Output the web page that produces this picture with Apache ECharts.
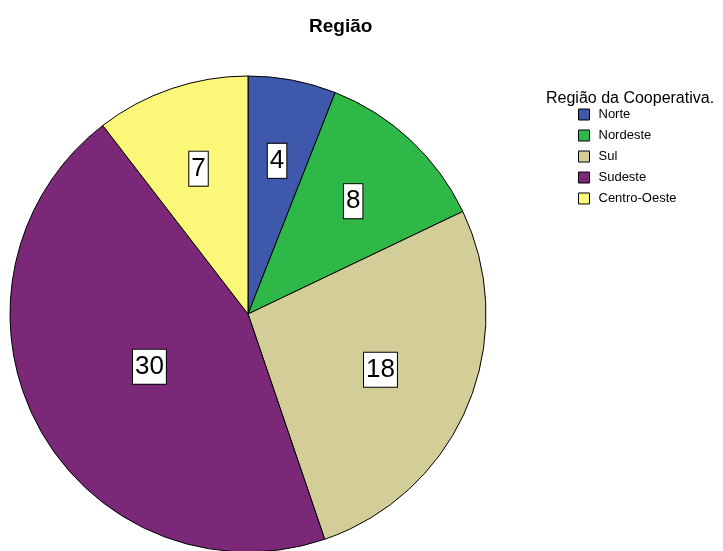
<!DOCTYPE html>
<html>
<head>
<meta charset="utf-8">
<script src="https://cdn.jsdelivr.net/npm/echarts@6/dist/echarts.min.js"></script>
<style>
  html, body { margin: 0; padding: 0; background: #fff; }
  #chart { width: 723px; height: 551px; }
</style>
</head>
<body>
<div id="chart"></div>
<script>
// Cooperatives by region
const categories = ['Norte', 'Nordeste', 'Sul', 'Sudeste', 'Centro-Oeste'];
const counts = [4, 8, 18, 30, 7];
const sliceColors = ['#3E58AC', '#2EB848', '#D3CE97', '#7B2879', '#FBF779'];

// Pie geometry (pixels) and how far out each value box sits along its slice's mid-angle
const CX = 248, CY = 314, R = 238;
const labelRadius = [0.655, 0.648, 0.604, 0.47, 0.645];

const total = counts.reduce((a, b) => a + b, 0);
const midAngles = [];
let acc = 0;
counts.forEach(v => { midAngles.push((acc + v / 2) / total * 360); acc += v; });

const chart = echarts.init(document.getElementById('chart'));
chart.setOption({
  animation: false,
  backgroundColor: '#ffffff',
  title: [
    {
      text: 'Região',
      left: 304, top: 12,
      textStyle: { fontFamily: 'Liberation Sans, Arial', fontSize: 19, fontWeight: 'bold', color: '#000' }
    },
    {
      text: 'Região da Cooperativa.',
      left: 541, top: 86,
      textStyle: { fontFamily: 'Liberation Sans, Arial', fontSize: 16, fontWeight: 'normal', color: '#000' }
    }
  ],
  legend: {
    orient: 'vertical',
    left: 578, top: 108,
    padding: 0,
    itemWidth: 11, itemHeight: 11,
    itemGap: 8,
    icon: 'rect',
    data: categories,
    textStyle: { fontFamily: 'Liberation Sans, Arial', fontSize: 13, lineHeight: 13, color: '#000', padding: [0, 0, 0, 4] },
    itemStyle: { borderColor: '#000', borderWidth: 1 }
  },
  series: [{
    type: 'pie',
    center: [CX, CY],
    radius: [0, R],
    startAngle: 90,
    clockwise: true,
    silent: true,
    itemStyle: { borderColor: '#000', borderWidth: 1 },
    label: {
      show: true,
      position: 'inside',
      formatter: '{c}',
      fontFamily: 'Liberation Sans, Arial',
      fontSize: 26,
      lineHeight: 30,
      color: '#000',
      backgroundColor: '#fff',
      borderColor: '#000',
      borderWidth: 1,
      padding: [2, 2, 2, 2]
    },
    labelLine: { show: false },
    labelLayout: function (p) {
      const i = p.dataIndex;
      const a = midAngles[i] * Math.PI / 180;
      const r = labelRadius[i] * R;
      return { x: CX + r * Math.sin(a), y: CY - r * Math.cos(a), align: 'center', verticalAlign: 'middle' };
    },
    data: categories.map((name, i) => ({ name: name, value: counts[i], itemStyle: { color: sliceColors[i] } }))
  }]
});
</script>
</body>
</html>
